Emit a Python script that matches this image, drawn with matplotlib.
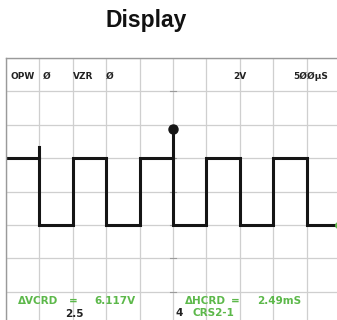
import matplotlib.pyplot as plt
import numpy as np

# scope trace, in divisions (2V/div, 500us/div)
edge_div = [0, 1, 2, 3, 4, 5, 6, 7, 8, 9, 9.9]
level_div = [1, -1, 1, -1, 1, -1, 1, -1, 1, -1]
cursor_x = [1, 5]
cursor_top = [1.35, 1.88]
header_txt = ["OPW", "Ø", "VZR", "Ø", "2V", "5ØØμS"]
header_x = [0.12, 1.1, 2.0, 2.99, 6.8, 8.59]

green = '#5cb84a'
plt.rcParams['font.family'] = ['Liberation Sans', 'DejaVu Sans']
readout = ['DejaVu Sans']

fig = plt.figure(figsize=(3.37, 3.2), dpi=100)
fig.text(146 / 337, 1 - 21 / 320, "Display", ha='center', va='center',
         fontsize=16.5, fontweight='bold', color='#111111')

# screen: 10 x 8 divisions, partly cut off on the right and bottom
ax = fig.add_axes([6 / 337, (320 - 325.2) / 320, 334 / 337, 267.2 / 320])
ax.set_xlim(0, 10)
ax.set_ylim(-4, 4)
ax.set_xticks(range(11))
ax.set_yticks(range(-4, 5))
ax.tick_params(length=0, labelbottom=False, labelleft=False)
ax.grid(True, color='#cfcfcf', lw=0.9)
for s in ax.spines.values():
    s.set_color('#9a9a9a')
    s.set_linewidth(1.0)

# small marks on the centre column
for yy in range(-3, 4):
    ax.plot([4.9, 5.1], [yy, yy], color='#9a9a9a', lw=0.8)

# square wave
xs = np.repeat(edge_div, 2)[1:-1]
ys = np.repeat(level_div, 2)
ax.plot(xs, ys, color='#151515', lw=2.2, solid_joinstyle='miter')

# cursors
ax.plot([cursor_x[0], cursor_x[0]], [1, cursor_top[0]], color='#151515', lw=2.2)
ax.plot([cursor_x[1], cursor_x[1]], [1, cursor_top[1]], color='#151515', lw=2.2)
ax.plot(cursor_x[1], cursor_top[1], 'o', color='#151515', ms=6.5)
ax.plot(edge_div[-1] + 0.05, level_div[-1], 'o', color=green, ms=4, clip_on=False)

# readouts
hk = dict(fontsize=6.5, fontweight='bold', va='center', family=readout)
for t, x in zip(header_txt, header_x):
    ax.text(x, 3.46, t, color='#222222', **hk)

kw = dict(fontsize=7.5, fontweight='bold', va='center', family=readout)
ax.text(0.36, -3.27, "ΔVCRD", color=green, **kw)
ax.text(1.89, -3.27, "=", color=green, **kw)
ax.text(2.66, -3.27, "6.117V", color=green, **kw)
ax.text(1.77, -3.66, "2.5", color='#222222', **kw)
ax.text(5.36, -3.27, "ΔHCRD", color=green, **kw)
ax.text(6.73, -3.27, "=", color=green, **kw)
ax.text(7.51, -3.27, "2.49mS", color=green, **kw)
ax.text(5.06, -3.63, "4", color='#222222', **kw)
ax.text(5.57, -3.63, "CRS2-1", color=green, **kw)

fig.savefig('out.png', dpi=100)
